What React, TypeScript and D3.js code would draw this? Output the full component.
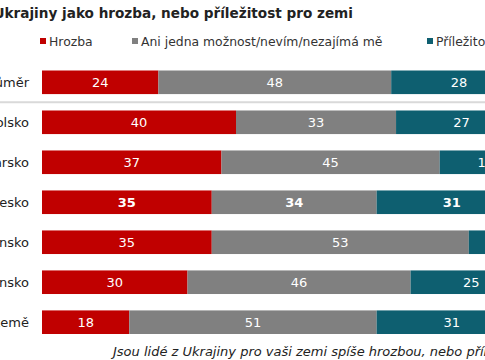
import React from "react";
import * as d3 from "d3";

const categories = ["Průměr", "Polsko", "Maďarsko", "Česko", "Rumunsko", "Slovensko", "Pobaltské země"];
const hrozba = [24, 40, 37, 35, 35, 30, 18];
const zadna = [48, 33, 45, 34, 53, 46, 51];
const prilezitost = [28, 27, 19, 31, 12, 25, 31];
const seriesNames = ["Hrozba", "Ani jedna možnost/nevím/nezajímá mě", "Příležitost"];
const colors = ["#C00000", "#808080", "#0E5F70"];
const highlighted = "Česko";

const W = 485;
const H = 360;
const FONT = "Verdana, 'DejaVu Sans', sans-serif";

export default function App() {
  const x = d3.scaleLinear().domain([0, 100]).range([42, 527]);
  const y = d3
    .scaleBand()
    .domain(categories)
    .range([62.5, 342])
    .paddingInner(0.41)
    .paddingOuter(0.2);
  const series = [hrozba, zadna, prilezitost];
  const rows = categories.map((c, i) => {
    let acc = 0;
    return series.map((s, k) => {
      const v = s[i];
      const seg = { cat: c, k, v, x0: acc, x1: acc + v };
      acc += v;
      return seg;
    });
  });
  const bw = y.bandwidth();
  const sepY = ((y(categories[0]) as number) + bw + (y(categories[1]) as number)) / 2;
  const legendX = [40, 132, 427];

  return (
    <svg
      width={W}
      height={H}
      style={{ position: "absolute", left: 0, top: 0, background: "#fff" }}
      fontFamily={FONT}
    >
      <text x={-6.5} y={18} fontSize={13.6} fontWeight="bold" fill="#222">
        Ukrajiny jako hrozba, nebo příležitost pro zemi
      </text>
      {seriesNames.map((n, k) => (
        <g key={n}>
          <rect x={legendX[k]} y={38} width={6} height={6} fill={colors[k]} />
          <text x={legendX[k] + 9} y={46} fontSize={12.4} fill="#333">
            {n}
          </text>
        </g>
      ))}
      <line x1={0} x2={W} y1={sepY} y2={sepY} stroke="#d9d9d9" strokeWidth={2} />
      {rows.map((segs, i) => {
        const c = categories[i];
        const yy = y(c) as number;
        const bold = c === highlighted;
        return (
          <g key={c}>
            <text
              x={29}
              y={yy + bw / 2}
              dy="0.35em"
              textAnchor="end"
              fontSize={13}
              fill="#222"
            >
              {c}
            </text>
            {segs.map((s) => (
              <g key={s.k}>
                <rect
                  x={x(s.x0)}
                  y={yy}
                  width={x(s.x1) - x(s.x0)}
                  height={bw}
                  fill={colors[s.k]}
                />
                <text
                  x={(x(s.x0) + x(s.x1)) / 2}
                  y={yy + bw / 2}
                  dy="0.36em"
                  textAnchor="middle"
                  fontSize={13}
                  fontWeight={bold ? "bold" : "normal"}
                  fill="#fff"
                >
                  {s.v}
                </text>
              </g>
            ))}
          </g>
        );
      })}
      <text x={113} y={356} fontSize={13} fontStyle="italic" fill="#222">
        Jsou lidé z Ukrajiny pro vaši zemi spíše hrozbou, nebo příležitostí?
      </text>
    </svg>
  );
}
